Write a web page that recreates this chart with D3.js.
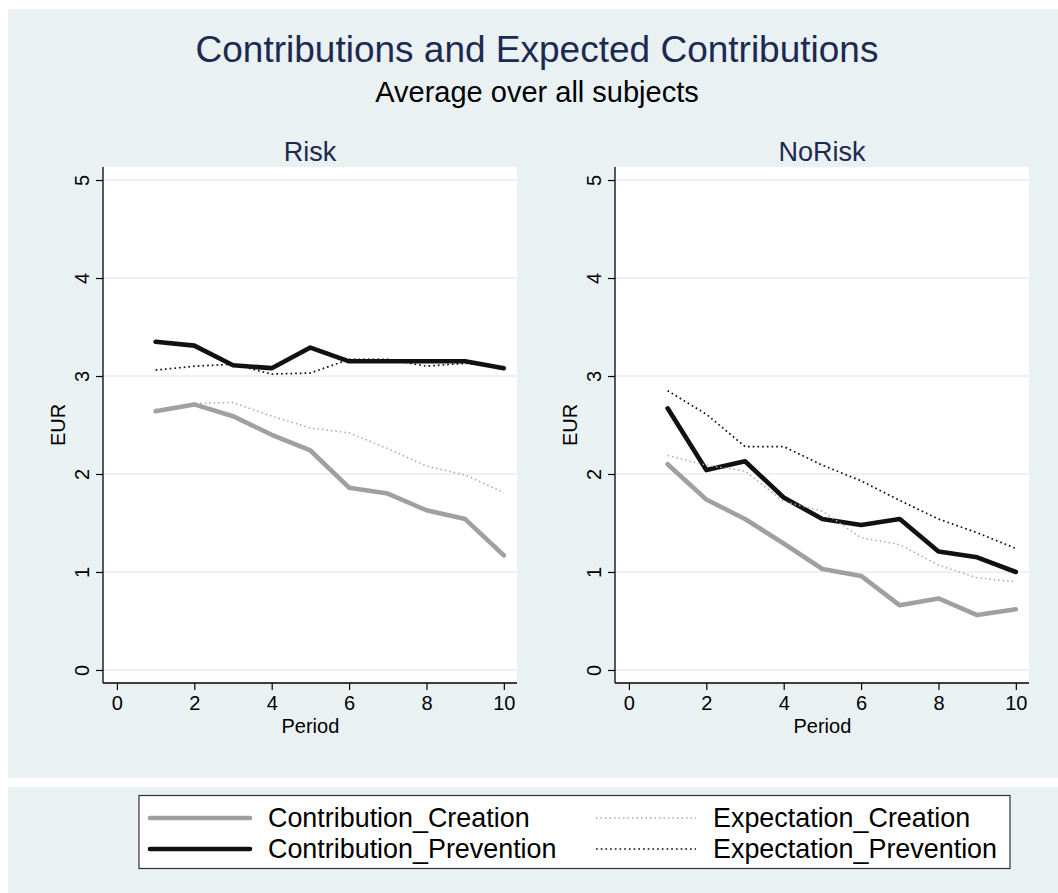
<!DOCTYPE html>
<html>
<head>
<meta charset="utf-8">
<script src="https://cdn.jsdelivr.net/npm/d3@7"></script>
<style>
  html, body { margin: 0; padding: 0; background: #ffffff; }
  svg { display: block; font-family: "Liberation Sans", Arial, sans-serif; }
</style>
</head>
<body>
<svg id="chart" width="1058" height="893"></svg>
<script>
// Periods 1..10, mean EUR per subject
const periods = [1, 2, 3, 4, 5, 6, 7, 8, 9, 10];
const panels = ["Risk", "NoRisk"];

const riskContributionCreation   = [2.64, 2.71, 2.59, 2.40, 2.24, 1.86, 1.80, 1.63, 1.54, 1.17];
const riskContributionPrevention = [3.35, 3.31, 3.11, 3.08, 3.29, 3.15, 3.15, 3.15, 3.15, 3.08];
const riskExpectationCreation    = [2.66, 2.72, 2.73, 2.59, 2.47, 2.42, 2.26, 2.08, 1.99, 1.81];
const riskExpectationPrevention  = [3.06, 3.10, 3.12, 3.02, 3.03, 3.17, 3.17, 3.10, 3.13, 3.09];

const noRiskContributionCreation   = [2.10, 1.74, 1.54, 1.29, 1.03, 0.96, 0.66, 0.73, 0.56, 0.62];
const noRiskContributionPrevention = [2.67, 2.04, 2.13, 1.76, 1.54, 1.48, 1.54, 1.21, 1.15, 1.00];
const noRiskExpectationCreation    = [2.19, 2.09, 2.03, 1.72, 1.62, 1.35, 1.28, 1.07, 0.94, 0.90];
const noRiskExpectationPrevention  = [2.85, 2.61, 2.28, 2.28, 2.09, 1.93, 1.73, 1.54, 1.40, 1.24];

const seriesNames = ["Contribution_Creation", "Contribution_Prevention", "Expectation_Creation", "Expectation_Prevention"];
const xTicks = [0, 2, 4, 6, 8, 10];
const yTicks = [0, 1, 2, 3, 4, 5];

const panelSeries = {
  Risk: [riskContributionCreation, riskContributionPrevention, riskExpectationCreation, riskExpectationPrevention],
  NoRisk: [noRiskContributionCreation, noRiskContributionPrevention, noRiskExpectationCreation, noRiskExpectationPrevention]
};

// Line style per series (same order as seriesNames)
const styles = [
  { stroke: "#a0a0a0", width: 4.6, dash: null },
  { stroke: "#111111", width: 4.6, dash: null },
  { stroke: "#a8a8a8", width: 1.5, dash: "1.5 3" },
  { stroke: "#111111", width: 1.7, dash: "1.7 3" }
];

const bg = "#eaf1f3";
const navy = "#1c2a52";
const tickFont = 20;

const svg = d3.select("#chart");

// Background bands: chart region and legend region
svg.append("rect").attr("x", 8).attr("y", 9).attr("width", 1050).attr("height", 769).attr("fill", bg);
svg.append("rect").attr("x", 8).attr("y", 787).attr("width", 1050).attr("height", 106).attr("fill", bg);

// Titles
svg.append("text").attr("x", 537).attr("y", 62).attr("text-anchor", "middle")
  .attr("font-size", 37).attr("fill", navy).text("Contributions and Expected Contributions");
svg.append("text").attr("x", 537).attr("y", 102).attr("text-anchor", "middle")
  .attr("font-size", 29).attr("fill", "#000").text("Average over all subjects");

// Panel geometry
const plotW = 414, plotH = 516, plotTop = 167;
const panelLefts = [103, 615];

panels.forEach((name, i) => {
  const left = panelLefts[i];
  const g = svg.append("g").attr("transform", `translate(${left},${plotTop})`);

  const x = d3.scaleLinear().domain([-0.36, 10.34]).range([0, plotW]);
  const y = d3.scaleLinear().domain([-0.133, 5.133]).range([plotH, 0]);

  g.append("rect").attr("width", plotW).attr("height", plotH).attr("fill", "#ffffff");

  // horizontal grid
  g.append("g").selectAll("line").data(yTicks).join("line")
    .attr("x1", 0).attr("x2", plotW)
    .attr("y1", d => y(d)).attr("y2", d => y(d))
    .attr("stroke", "#e6eef1").attr("stroke-width", 1.6);

  // panel title
  svg.append("text").attr("x", left + plotW / 2).attr("y", 161).attr("text-anchor", "middle")
    .attr("font-size", 27).attr("fill", navy).text(name);

  // series
  const line = d3.line().x((d, k) => x(periods[k])).y(d => y(d));
  panelSeries[name].forEach((vals, s) => {
    const st = styles[s];
    g.append("path").datum(vals)
      .attr("d", line)
      .attr("fill", "none")
      .attr("stroke", st.stroke)
      .attr("stroke-width", st.width)
      .attr("stroke-linejoin", "round")
      .attr("stroke-linecap", st.dash ? "butt" : "round")
      .attr("stroke-dasharray", st.dash);
  });

  // x axis
  const xAxis = g.append("g").attr("transform", `translate(0,${plotH})`)
    .call(d3.axisBottom(x).tickValues(xTicks).tickSize(7).tickPadding(6).tickFormat(d3.format("d")));
  xAxis.attr("font-size", tickFont).attr("font-family", "Liberation Sans, Arial, sans-serif");
  xAxis.select(".domain").attr("stroke", "#000").attr("stroke-width", 1.3).attr("d", `M0,0H${plotW}`);
  xAxis.selectAll(".tick line").attr("stroke", "#000").attr("stroke-width", 1.2);
  xAxis.selectAll(".tick text").attr("fill", "#000");

  // y axis
  const yAxis = g.append("g")
    .call(d3.axisLeft(y).tickValues(yTicks).tickSize(7).tickFormat(d3.format("d")));
  yAxis.attr("font-size", tickFont).attr("font-family", "Liberation Sans, Arial, sans-serif");
  yAxis.select(".domain").attr("stroke", "#000").attr("stroke-width", 1.3).attr("d", `M0,0V${plotH}`);
  yAxis.selectAll(".tick line").attr("stroke", "#000").attr("stroke-width", 1.2);
  yAxis.selectAll(".tick text")
    .attr("fill", "#000")
    .attr("x", null)
    .attr("text-anchor", "middle")
    .attr("transform", "translate(-21,0) rotate(-90)")
    .attr("dy", "0.35em");

  // axis titles
  g.append("text").attr("x", x(5)).attr("y", plotH + 50).attr("text-anchor", "middle")
    .attr("font-size", tickFont).attr("fill", "#000").text("Period");
  g.append("text").attr("transform", `translate(-38,${y(2.5)}) rotate(-90)`)
    .attr("text-anchor", "middle").attr("font-size", tickFont).attr("fill", "#000").text("EUR");
});

// Legend
const legend = svg.append("g");
legend.append("rect").attr("x", 139).attr("y", 795.5).attr("width", 871).attr("height", 73)
  .attr("fill", "#ffffff").attr("stroke", "#333").attr("stroke-width", 1.2);

const legendPos = [
  { lx: 150, tx: 268, y: 818 },
  { lx: 150, tx: 268, y: 849 },
  { lx: 596, tx: 713, y: 818 },
  { lx: 596, tx: 713, y: 849 }
];
seriesNames.forEach((nm, s) => {
  const p = legendPos[s], st = styles[s];
  legend.append("line").attr("x1", p.lx).attr("x2", p.lx + 100).attr("y1", p.y).attr("y2", p.y)
    .attr("stroke", st.stroke).attr("stroke-width", st.width)
    .attr("stroke-linecap", st.dash ? "butt" : "round")
    .attr("stroke-dasharray", st.dash);
  legend.append("text").attr("x", p.tx).attr("y", p.y).attr("dy", "0.35em")
    .attr("font-size", 26.9).attr("fill", "#000").text(nm);
});
</script>
</body>
</html>
